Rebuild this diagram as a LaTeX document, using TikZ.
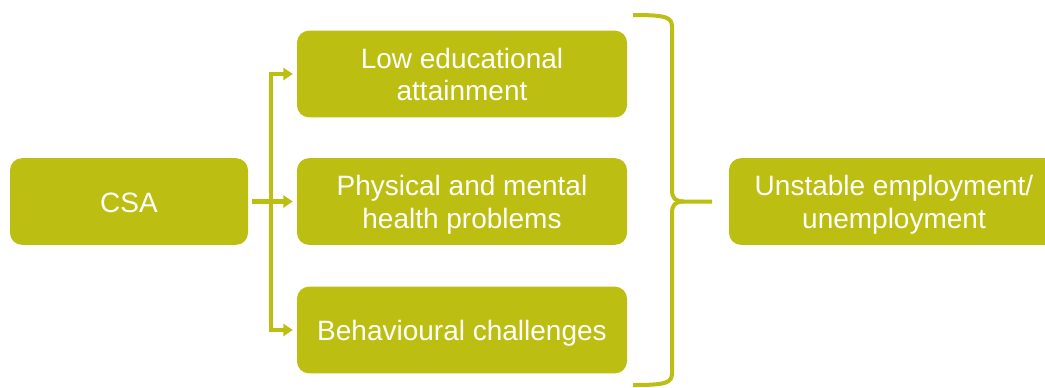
\documentclass[tikz,border=0pt]{standalone}
\usepackage{fontspec}
\setmainfont{Liberation Sans}
\usepackage{xcolor}
\usetikzlibrary{arrows.meta}

\definecolor{olive}{RGB}{188,190,18}
% centred text block, lowered a little to sit on the cap height
\newcommand{\boxtext}[1]{\raisebox{-3pt}[\height][\depth]{\begin{tabular}{@{}c@{}}#1\end{tabular}}}

\begin{document}
\begin{tikzpicture}[x=0.75pt,y=0.75pt,yscale=-1,
    box/.style={fill=olive, rounded corners=9pt, text=white,
        minimum width=247.5pt, minimum height=65pt, inner sep=0pt,
        font=\fontsize{21}{24.5}\selectfont},
    flow/.style={draw=olive, line width=3.2pt, -{Triangle[length=7pt,width=9pt]}, shorten >=3pt},
    brace/.style={draw=olive, line width=3pt, line cap=butt}]
        \useasboundingbox (0,0) rectangle (1045,387);

        %Shape: Rounded Rect [id:csa]
        \node[box, minimum width=178.5pt] (csa) at (129,201.5) {\boxtext{CSA}};
        %Shape: Rounded Rect [id:educ]
        \node[box] (educ) at (462,74) {\boxtext{Low educational\\attainment}};
        %Shape: Rounded Rect [id:health]
        \node[box] (health) at (462,201.5) {\boxtext{Physical and mental\\health problems}};
        %Shape: Rounded Rect [id:behav]
        \node[box] (behav) at (462,330) {\boxtext{Behavioural challenges}};
        %Shape: Rounded Rect [id:employ]
        \node[box] (employ) at (894,201.5) {\boxtext{Unstable employment/\\unemployment}};

        %Straight Lines [id:split]
        \coordinate (split) at (271,201.5);
        \draw[flow, shorten <=3pt] (csa) -- (health);
        \draw[flow] (split) |- (educ.west);
        \draw[flow] (split) |- (behav.west);

        %Shape: Brace [id:brace]
        \coordinate (tip) at (712,201.5);
        \draw[brace] (633,15) .. controls (666,15) and (672,17) .. (672,27) -- (672,190) .. controls (672,198) and (675,201.5) .. (684,201.5) -- (tip);
        \draw[brace] (633,385) .. controls (666,385) and (672,383) .. (672,373) -- (672,213) .. controls (672,205) and (675,201.5) .. (684,201.5);

\end{tikzpicture}
\end{document}
